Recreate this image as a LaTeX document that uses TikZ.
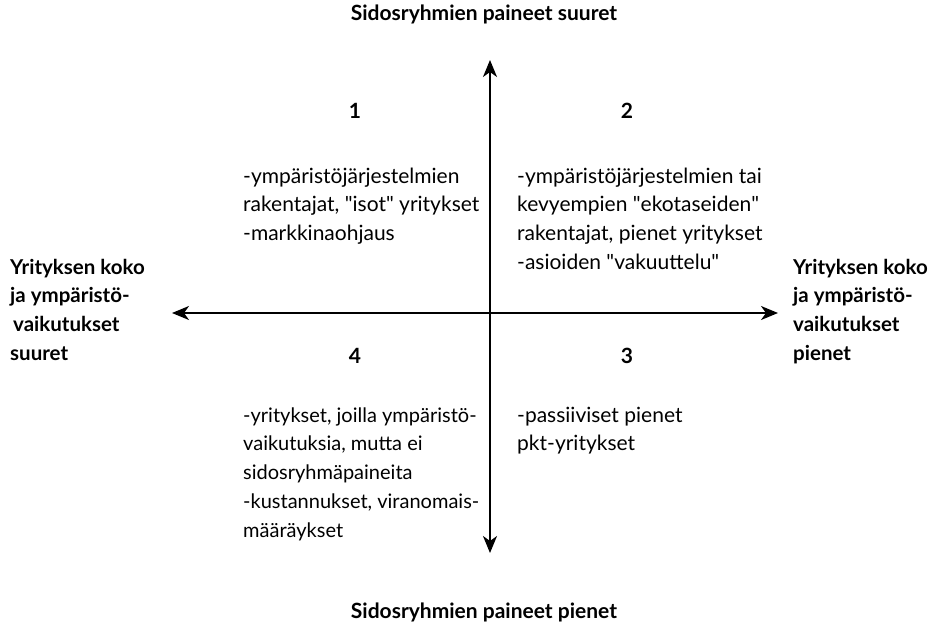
\documentclass[tikz,border=0pt]{standalone}
\usepackage{fontspec}
\setmainfont{Lato}
\usetikzlibrary{arrows.meta}
\newcommand{\dq}{\textquotedbl}
\begin{document}
\begin{tikzpicture}[x=1pt,y=-1pt,
  axis/.style={line width=1.8pt,{Stealth[length=17pt,width=14pt,inset=5pt]}-{Stealth[length=17pt,width=14pt,inset=5pt]}},
  body/.style={anchor=base west,inner sep=0pt,align=left,font=\fontsize{21}{28.8}\selectfont},
  side/.style={anchor=base west,inner sep=0pt,align=left,font=\fontsize{20.5}{28.8}\selectfont\bfseries},
  title/.style={anchor=base,inner sep=0pt,font=\fontsize{21}{24}\selectfont\bfseries},
  num/.style={anchor=base,inner sep=0pt,font=\fontsize{21}{24}\selectfont\bfseries}]
\useasboundingbox (0,0) rectangle (935,634);
\coordinate (top) at (490,60);
\coordinate (bot) at (490,553);
\coordinate (lft) at (172,313);
\coordinate (rgt) at (778,313);
\draw[axis] (top) -- (bot);
\draw[axis] (lft) -- (rgt);
\node[title] (ttop) at (484,21) {Sidosryhmien paineet suuret};
\node[title] (tbot) at (484,618) {Sidosryhmien paineet pienet};
\node[side] (sl) at (10,360.4) {Yrityksen koko\\ja ympäristö-\\\hspace*{3pt}vaikutukset\\suuret};
\node[side] (sr) at (793,360.4) {Yrityksen koko\\ja ympäristö-\\vaikutukset\\pienet};
\node[num] (n1) at (355,118) {1};
\node[num] (n2) at (627,118) {2};
\node[num] (n4) at (355,363) {4};
\node[num] (n3) at (627,363) {3};
\node[body] (q1) at (243,240.6) {-ympäristöjärjestelmien\\rakentajat, \dq isot\dq{} yritykset\\-markkinaohjaus};
\node[body] (q2) at (517,269.4) {-ympäristöjärjestelmien tai\\kevyempien \dq ekotaseiden\dq\\rakentajat, pienet yritykset\\-asioiden \dq vakuuttelu\dq};
\node[body,font=\fontsize{20}{28.8}\selectfont] (q4) at (243,537.2) {-yritykset, joilla ympäristö-\\vaikutuksia, mutta ei\\sidosryhmäpaineita\\-kustannukset, viranomais-\\määräykset};
\node[body] (q3) at (517,450.8) {-passiiviset pienet\\pkt-yritykset};
\end{tikzpicture}
\end{document}
